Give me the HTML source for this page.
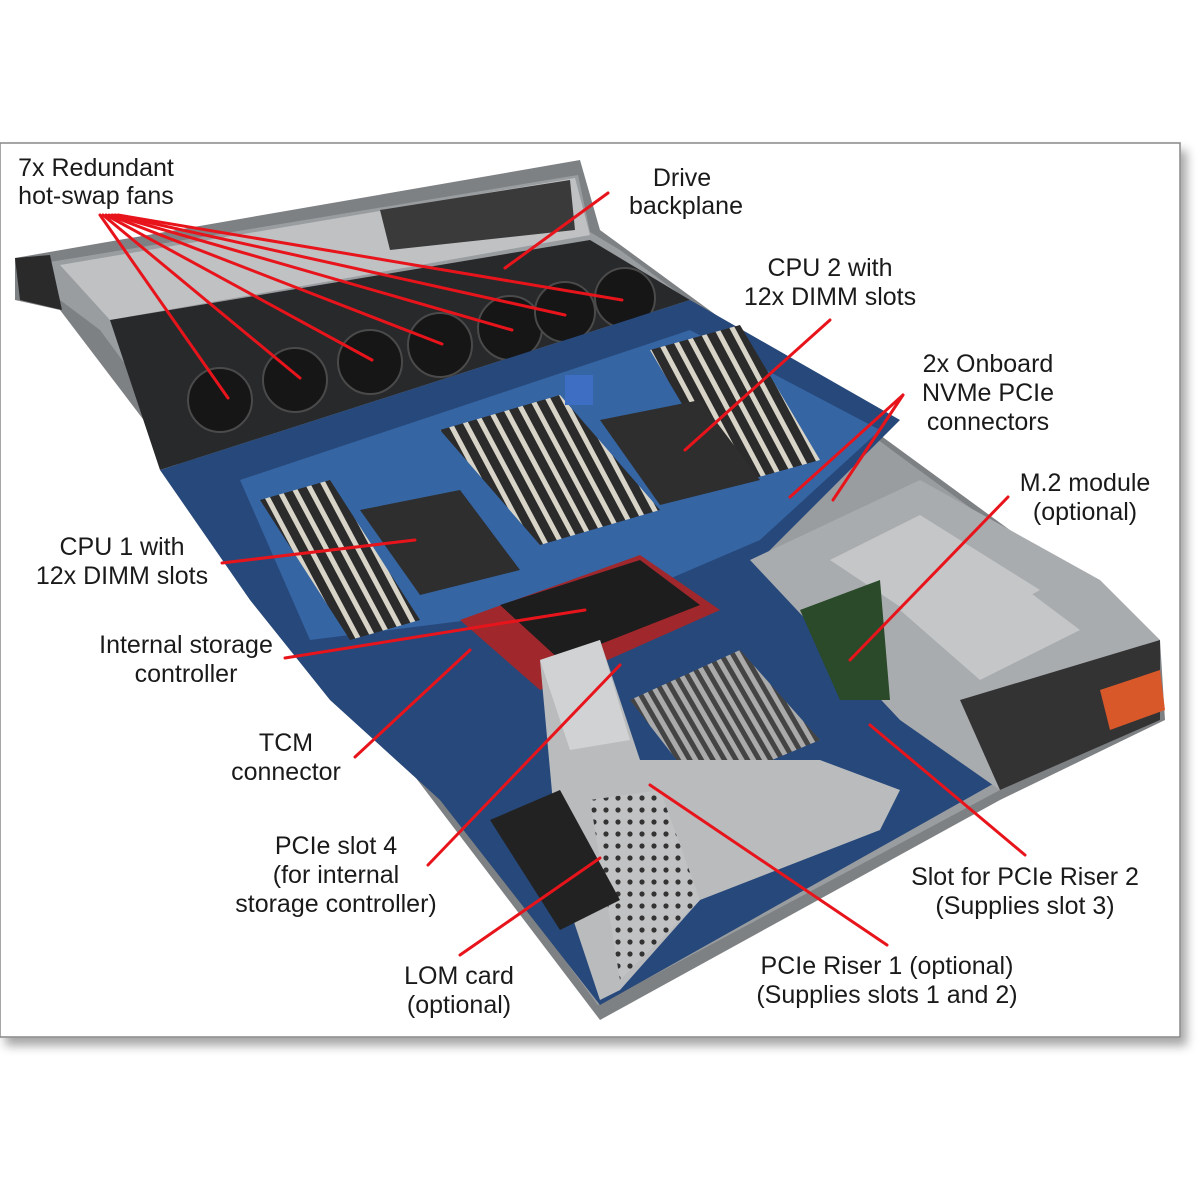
<!DOCTYPE html>
<html><head><meta charset="utf-8"><style>
html,body{margin:0;padding:0;background:#fff;}
svg{display:block}
text{font-family:"Liberation Sans",sans-serif;font-size:25px;fill:#1a1a1a;text-anchor:middle}
</style></head><body>
<svg width="1200" height="1200" viewBox="0 0 1200 1200" xmlns="http://www.w3.org/2000/svg">
<defs>
<filter id="sh" x="-5%" y="-5%" width="112%" height="115%"><feDropShadow dx="6" dy="8" stdDeviation="5" flood-color="#000" flood-opacity="0.35"/></filter>
<pattern id="dimm" width="14" height="14" patternUnits="userSpaceOnUse" patternTransform="rotate(-28)">
<rect width="14" height="14" fill="#2b2b2b"/><rect width="5" height="14" fill="#d8d4c8"/></pattern>
<pattern id="fin" width="10" height="10" patternUnits="userSpaceOnUse" patternTransform="rotate(-30)">
<rect width="10" height="10" fill="#444"/><rect width="5" height="10" fill="#aaa"/></pattern>
<pattern id="holes" width="12" height="12" patternUnits="userSpaceOnUse">
<rect width="12" height="12" fill="#c0c2c4"/><circle cx="6" cy="6" r="2.6" fill="#333"/></pattern>
</defs>
<rect x="0" y="143" width="1180" height="894" fill="#fff" stroke="#888" stroke-width="1.5" filter="url(#sh)"/>
<!-- chassis -->
<polygon points="15,258 580,160 600,230 1160,640 1165,720 1000,800 600,1020 60,310 15,300" fill="#7e8184"/>
<polygon points="50,262 578,175 590,232 620,250 1150,640 1152,710 1000,790 598,1005 100,330 60,300" fill="#9a9da0"/>
<polygon points="15,258 50,255 62,310 20,300" fill="#2a2a2a"/>
<polygon points="60,265 575,178 590,235 110,320" fill="#bfc1c3"/>
<polygon points="380,210 570,180 575,230 390,250" fill="#3a3a3a"/>
<!-- fan row -->
<polygon points="110,320 590,240 690,300 160,470" fill="#28292b"/>
<g fill="#161617" stroke="#4a4a4a" stroke-width="2">
<circle cx="220" cy="400" r="32"/><circle cx="295" cy="380" r="32"/><circle cx="370" cy="362" r="32"/>
<circle cx="440" cy="345" r="32"/><circle cx="510" cy="328" r="32"/><circle cx="565" cy="312" r="30"/><circle cx="625" cy="298" r="30"/></g>
<!-- motherboard -->
<polygon points="160,470 690,300 900,420 760,560 1000,780 600,1005 440,800 330,700 250,600" fill="#27487a"/>
<polygon points="240,480 690,330 880,430 760,540 620,600 470,620 310,640" fill="#3565a3"/>
<polygon points="260,500 330,480 420,620 350,640" fill="url(#dimm)"/>
<polygon points="440,430 560,395 660,510 540,545" fill="url(#dimm)"/>
<polygon points="650,350 740,325 820,460 730,485" fill="url(#dimm)"/>
<polygon points="360,510 460,490 520,570 420,595" fill="#2e2e2e"/>
<polygon points="600,420 700,400 760,480 660,505" fill="#2e2e2e"/>
<rect x="565" y="375" width="28" height="30" fill="#3d6ec4"/>
<polygon points="460,620 640,555 720,610 540,690" fill="#a0282c"/>
<polygon points="500,605 640,560 700,605 560,660" fill="#1d1d1d"/>
<!-- PSU area -->
<polygon points="750,560 920,480 1100,580 1160,640 1160,720 1000,790 900,720" fill="#a9acaf"/>
<polygon points="830,560 920,515 1040,590 950,640" fill="#c4c6c8"/>
<polygon points="900,610 1000,570 1080,630 980,680" fill="#c4c6c8"/>
<polygon points="960,700 1160,640 1160,720 1000,790" fill="#333"/>
<polygon points="1100,690 1160,670 1165,710 1110,730" fill="#d9582a"/>
<polygon points="800,610 880,580 890,700 840,700" fill="#2a4a2a"/>
<polygon points="630,700 740,650 820,740 700,790" fill="url(#fin)"/>
<!-- riser 1 -->
<polygon points="540,660 600,640 640,760 820,760 900,790 880,830 700,900 620,990 600,1000 560,880" fill="#b9bbbd"/>
<polygon points="590,800 660,790 700,900 620,980" fill="url(#holes)"/>
<polygon points="540,660 600,640 630,740 570,750" fill="#d0d2d4"/>
<polygon points="490,820 560,790 620,900 560,930" fill="#222"/>
<g stroke="#e8141b" stroke-width="3" fill="none" stroke-linecap="round">
<line x1="100" y1="215" x2="228" y2="398"/>
<line x1="103" y1="215" x2="300" y2="378"/>
<line x1="106" y1="215" x2="372" y2="360"/>
<line x1="109" y1="215" x2="442" y2="344"/>
<line x1="112" y1="215" x2="512" y2="330"/>
<line x1="115" y1="215" x2="565" y2="315"/>
<line x1="118" y1="215" x2="622" y2="300"/>
<line x1="608" y1="193" x2="505" y2="268"/>
<line x1="830" y1="320" x2="685" y2="450"/>
<line x1="903" y1="395" x2="790" y2="497"/>
<line x1="903" y1="395" x2="833" y2="500"/>
<line x1="1008" y1="497" x2="850" y2="660"/>
<line x1="222" y1="563" x2="415" y2="540"/>
<line x1="285" y1="658" x2="585" y2="610"/>
<line x1="355" y1="757" x2="470" y2="650"/>
<line x1="428" y1="865" x2="620" y2="665"/>
<line x1="460" y1="955" x2="600" y2="858"/>
<line x1="1025" y1="855" x2="870" y2="725"/>
<line x1="887" y1="945" x2="650" y2="785"/>
</g>
<text x="96" y="176">7x Redundant</text>
<text x="96" y="204">hot-swap fans</text>
<text x="682" y="186">Drive</text>
<text x="686" y="214">backplane</text>
<text x="830" y="276">CPU 2 with</text>
<text x="830" y="305">12x DIMM slots</text>
<text x="988" y="372">2x Onboard</text>
<text x="988" y="401">NVMe PCIe</text>
<text x="988" y="430">connectors</text>
<text x="1085" y="491">M.2 module</text>
<text x="1085" y="520">(optional)</text>
<text x="122" y="555">CPU 1 with</text>
<text x="122" y="584">12x DIMM slots</text>
<text x="186" y="653">Internal storage</text>
<text x="186" y="682">controller</text>
<text x="286" y="751">TCM</text>
<text x="286" y="780">connector</text>
<text x="336" y="854">PCIe slot 4</text>
<text x="336" y="883">(for internal</text>
<text x="336" y="912">storage controller)</text>
<text x="459" y="984">LOM card</text>
<text x="459" y="1013">(optional)</text>
<text x="1025" y="885">Slot for PCIe Riser 2</text>
<text x="1025" y="914">(Supplies slot 3)</text>
<text x="887" y="974">PCIe Riser 1 (optional)</text>
<text x="887" y="1003">(Supplies slots 1 and 2)</text>
</svg>
</body></html>
